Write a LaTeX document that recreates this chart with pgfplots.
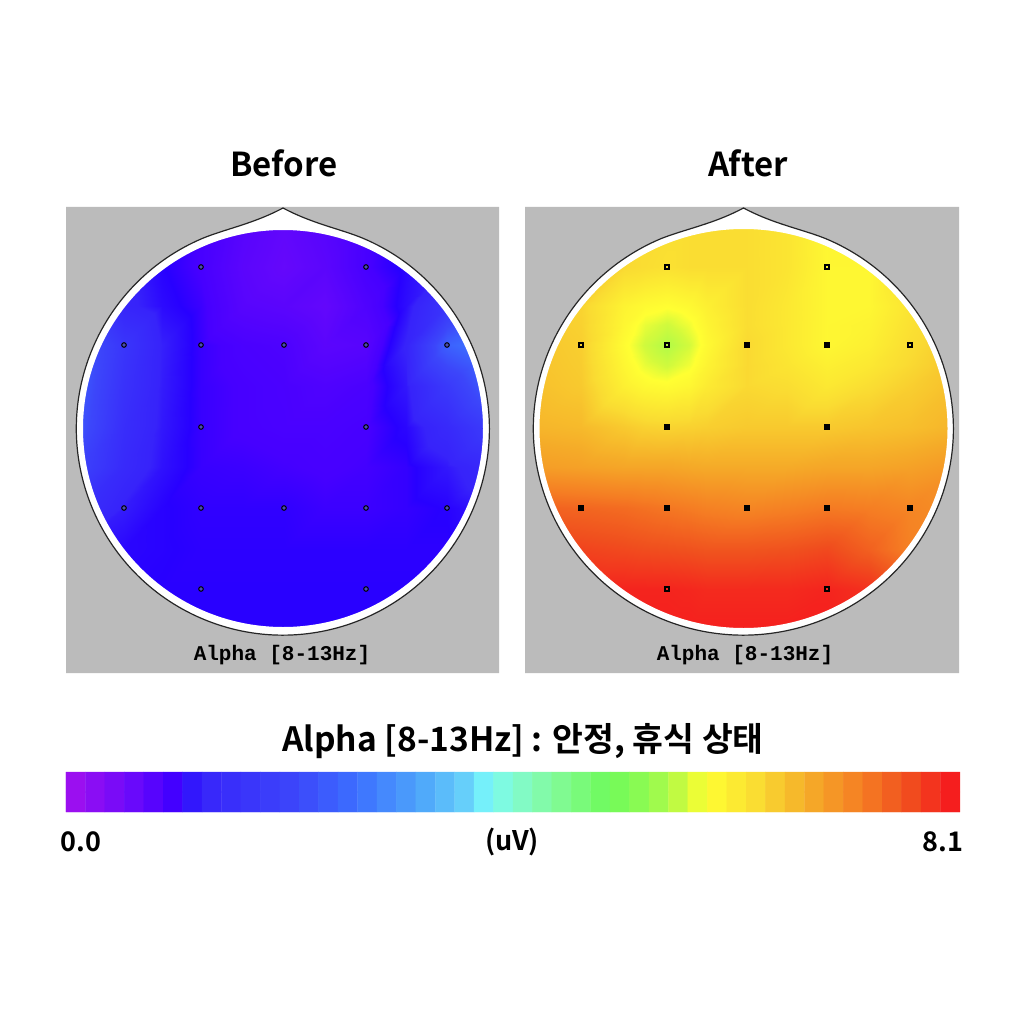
\documentclass[border=0pt]{standalone}
\usepackage{pgfplots}
\pgfplotsset{compat=1.18}
\usepackage{pgfplotstable}
\usepackage{fontspec}
\setmainfont{Noto Sans CJK KR}[BoldFont={* Bold}]
\newfontfamily\eegmono{Liberation Mono}
\definecolor{panel}{RGB}{187,187,187}
\pgfplotsset{colormap={eeg}{
rgb255(0pt)=(155,15,240) rgb255(6pt)=(110,10,250) rgb255(11pt)=(70,0,255) rgb255(12pt)=(40,0,255)
rgb255(14pt)=(55,35,250) rgb255(25pt)=(60,70,250) rgb255(32pt)=(60,110,255) rgb255(40pt)=(80,170,250)
rgb255(46pt)=(110,220,250) rgb255(47pt)=(120,250,250) rgb255(50pt)=(130,250,210) rgb255(55pt)=(130,250,150)
rgb255(61pt)=(110,250,90) rgb255(66pt)=(150,250,80) rgb255(70pt)=(210,250,60) rgb255(72pt)=(255,255,50)
rgb255(78pt)=(250,220,50) rgb255(84pt)=(245,170,40) rgb255(90pt)=(245,125,35) rgb255(95pt)=(240,80,30)
rgb255(100pt)=(245,30,30)}}
\pgfplotstableread[row sep=\\]{
x y v\\
75 225 1.05\\ 124 225 1.0\\ 162 225 .94\\ 201 225 .88\\ 243 225 .72\\ 284 225 .62\\ 325 225 .72\\ 366 225 .88\\ 406 225 1.0\\ 447 225 1.2\\ 492 225 1.4\\
75 267 1.2\\ 124 267 1.1\\ 162 267 .98\\ 201 267 .88\\ 243 267 .68\\ 284 267 .58\\ 325 267 .68\\ 366 267 .88\\ 406 267 1.0\\ 447 267 1.2\\ 492 267 1.6\\
75 306 1.5\\ 124 306 1.2\\ 162 306 1.02\\ 201 306 .92\\ 243 306 .72\\ 284 306 .68\\ 325 306 .6\\ 366 306 .8\\ 406 306 1.03\\ 447 306 1.6\\ 492 306 2.2\\
75 345 2.4\\ 124 345 1.6\\ 162 345 1.12\\ 201 345 .93\\ 243 345 .85\\ 284 345 .82\\ 325 345 .68\\ 366 345 .72\\ 406 345 1.15\\ 447 345 2.4\\ 492 345 2.8\\
75 386 2.4\\ 124 386 1.5\\ 162 386 1.1\\ 201 386 .93\\ 243 386 .88\\ 284 386 .85\\ 325 386 .8\\ 366 386 .85\\ 406 386 1.08\\ 447 386 1.7\\ 492 386 2.4\\
75 427 2.3\\ 124 427 1.4\\ 162 427 1.08\\ 201 427 .93\\ 243 427 .88\\ 284 427 .86\\ 325 427 .86\\ 366 427 .88\\ 406 427 1.0\\ 447 427 1.3\\ 492 427 1.8\\
75 467 2.0\\ 124 467 1.3\\ 162 467 1.05\\ 201 467 .93\\ 243 467 .92\\ 284 467 .9\\ 325 467 .88\\ 366 467 .9\\ 406 467 .94\\ 447 467 1.08\\ 492 467 1.3\\
75 508 1.5\\ 124 508 1.1\\ 162 508 .98\\ 201 508 .95\\ 243 508 .95\\ 284 508 .95\\ 325 508 .92\\ 366 508 .92\\ 406 508 .94\\ 447 508 .98\\ 492 508 1.1\\
75 549 1.1\\ 124 549 1.0\\ 162 549 .98\\ 201 549 .96\\ 243 549 .96\\ 284 549 .96\\ 325 549 .96\\ 366 549 .96\\ 406 549 .96\\ 447 549 .96\\ 492 549 1.0\\
75 589 1.0\\ 124 589 .98\\ 162 589 .97\\ 201 589 .97\\ 243 589 .97\\ 284 589 .97\\ 325 589 .97\\ 366 589 .97\\ 406 589 .97\\ 447 589 .97\\ 492 589 .97\\
75 635 .97\\ 124 635 .97\\ 162 635 .97\\ 201 635 .97\\ 243 635 .97\\ 284 635 .97\\ 325 635 .97\\ 366 635 .97\\ 406 635 .97\\ 447 635 .97\\ 492 635 .97\\
}\before
\pgfplotstableread[row sep=\\]{
x y v\\
530 225 6.35\\ 581 225 6.35\\ 624 225 6.3\\ 645 225 6.3\\ 667 225 6.3\\ 689 225 6.3\\ 707 225 6.3\\ 747 225 6.3\\ 787 225 6.2\\ 827 225 5.95\\ 869 225 6.0\\ 910 225 6.3\\ 955 225 6.3\\
530 267 6.4\\ 581 267 6.4\\ 624 267 6.35\\ 645 267 6.3\\ 667 267 6.25\\ 689 267 6.3\\ 707 267 6.3\\ 747 267 6.3\\ 787 267 6.2\\ 827 267 5.95\\ 869 267 5.95\\ 910 267 6.3\\ 955 267 6.4\\
530 306 6.45\\ 581 306 6.4\\ 624 306 6.0\\ 645 306 5.9\\ 667 306 5.85\\ 689 306 5.92\\ 707 306 6.05\\ 747 306 6.3\\ 787 306 6.15\\ 827 306 5.95\\ 869 306 5.95\\ 910 306 6.2\\ 955 306 6.4\\
530 325 6.5\\ 581 325 6.42\\ 624 325 5.95\\ 645 325 5.75\\ 667 325 5.65\\ 689 325 5.78\\ 707 325 5.98\\ 747 325 6.3\\ 787 325 6.15\\ 827 325 5.95\\ 869 325 6.0\\ 910 325 6.25\\ 955 325 6.45\\
530 345 6.55\\ 581 345 6.45\\ 624 345 5.88\\ 645 345 5.65\\ 667 345 5.5\\ 689 345 5.67\\ 707 345 5.92\\ 747 345 6.35\\ 787 345 6.15\\ 827 345 5.95\\ 869 345 6.05\\ 910 345 6.3\\ 955 345 6.5\\
530 365 6.57\\ 581 365 6.47\\ 624 365 5.95\\ 645 365 5.75\\ 667 365 5.65\\ 689 365 5.78\\ 707 365 6.0\\ 747 365 6.35\\ 787 365 6.2\\ 827 365 6.05\\ 869 365 6.15\\ 910 365 6.35\\ 955 365 6.55\\
530 386 6.6\\ 581 386 6.5\\ 624 386 6.05\\ 645 386 5.92\\ 667 386 5.88\\ 689 386 5.95\\ 707 386 6.12\\ 747 386 6.35\\ 787 386 6.3\\ 827 386 6.15\\ 869 386 6.3\\ 910 386 6.45\\ 955 386 6.6\\
530 427 6.7\\ 581 427 6.65\\ 624 427 6.5\\ 645 427 6.42\\ 667 427 6.4\\ 689 427 6.42\\ 707 427 6.45\\ 747 427 6.5\\ 787 427 6.5\\ 827 427 6.5\\ 869 427 6.55\\ 910 427 6.6\\ 955 427 6.7\\
530 467 6.95\\ 581 467 6.9\\ 624 467 6.85\\ 645 467 6.85\\ 667 467 6.85\\ 689 467 6.82\\ 707 467 6.8\\ 747 467 6.8\\ 787 467 6.8\\ 827 467 6.85\\ 869 467 6.85\\ 910 467 6.9\\ 955 467 7.0\\
530 508 7.55\\ 581 508 7.5\\ 624 508 7.45\\ 645 508 7.4\\ 667 508 7.35\\ 689 508 7.3\\ 707 508 7.25\\ 747 508 7.2\\ 787 508 7.25\\ 827 508 7.32\\ 869 508 7.28\\ 910 508 7.2\\ 955 508 7.1\\
530 549 7.85\\ 581 549 7.8\\ 624 549 7.75\\ 645 549 7.72\\ 667 549 7.7\\ 689 549 7.68\\ 707 549 7.65\\ 747 549 7.65\\ 787 549 7.68\\ 827 549 7.75\\ 869 549 7.55\\ 910 549 7.25\\ 955 549 7.05\\
530 589 8.05\\ 581 589 8.05\\ 624 589 8.05\\ 645 589 8.05\\ 667 589 8.05\\ 689 589 8.03\\ 707 589 8.0\\ 747 589 8.0\\ 787 589 8.0\\ 827 589 8.05\\ 869 589 7.95\\ 910 589 7.7\\ 955 589 7.5\\
530 635 8.1\\ 581 635 8.1\\ 624 635 8.1\\ 645 635 8.1\\ 667 635 8.1\\ 689 635 8.1\\ 707 635 8.1\\ 747 635 8.1\\ 787 635 8.1\\ 827 635 8.1\\ 869 635 8.1\\ 910 635 8.0\\ 955 635 8.0\\
}\after
\pgfplotstableread[row sep=\\]{
x y v\\
75.7 782 0\\ 95.2 782 .18\\ 114.6 782 .36\\ 134.0 782 .54\\ 153.5 782 .72\\ 172.9 782 .9\\ 192.3 782 1.08\\ 211.8 782 1.26\\ 231.2 782 1.44\\ 250.6 782 1.62\\ 270.1 782 1.8\\ 289.5 782 1.98\\ 308.9 782 2.16\\ 328.4 782 2.34\\ 347.8 782 2.52\\ 367.2 782 2.7\\ 386.7 782 2.88\\ 406.1 782 3.06\\ 425.5 782 3.24\\ 445.0 782 3.42\\ 464.4 782 3.6\\ 483.8 782 3.78\\ 503.3 782 3.96\\ 522.7 782 4.14\\ 542.1 782 4.32\\ 561.6 782 4.5\\ 581.0 782 4.68\\ 600.4 782 4.86\\ 619.9 782 5.04\\ 639.3 782 5.22\\ 658.7 782 5.4\\ 678.2 782 5.58\\ 697.6 782 5.76\\ 717.0 782 5.94\\ 736.5 782 6.12\\ 755.9 782 6.3\\ 775.3 782 6.48\\ 794.8 782 6.66\\ 814.2 782 6.84\\ 833.6 782 7.02\\ 853.1 782 7.2\\ 872.5 782 7.38\\ 891.9 782 7.56\\ 911.4 782 7.74\\ 930.8 782 7.92\\ 950.2 782 8.1\\
75.7 802 0\\ 95.2 802 .18\\ 114.6 802 .36\\ 134.0 802 .54\\ 153.5 802 .72\\ 172.9 802 .9\\ 192.3 802 1.08\\ 211.8 802 1.26\\ 231.2 802 1.44\\ 250.6 802 1.62\\ 270.1 802 1.8\\ 289.5 802 1.98\\ 308.9 802 2.16\\ 328.4 802 2.34\\ 347.8 802 2.52\\ 367.2 802 2.7\\ 386.7 802 2.88\\ 406.1 802 3.06\\ 425.5 802 3.24\\ 445.0 802 3.42\\ 464.4 802 3.6\\ 483.8 802 3.78\\ 503.3 802 3.96\\ 522.7 802 4.14\\ 542.1 802 4.32\\ 561.6 802 4.5\\ 581.0 802 4.68\\ 600.4 802 4.86\\ 619.9 802 5.04\\ 639.3 802 5.22\\ 658.7 802 5.4\\ 678.2 802 5.58\\ 697.6 802 5.76\\ 717.0 802 5.94\\ 736.5 802 6.12\\ 755.9 802 6.3\\ 775.3 802 6.48\\ 794.8 802 6.66\\ 814.2 802 6.84\\ 833.6 802 7.02\\ 853.1 802 7.2\\ 872.5 802 7.38\\ 891.9 802 7.56\\ 911.4 802 7.74\\ 930.8 802 7.92\\ 950.2 802 8.1\\
}\bar
\newcommand\headpath[3]{% cx rx ry
  (#1,208) .. controls ({#1+30},224) and ({#1+58},229) .. ({#1+0.39*#2},{428.5-0.92*#3})
  arc[start angle=67, end angle=-247, x radius=#2 pt, y radius=#3 pt]
  .. controls ({#1-58},229) and ({#1-30},224) .. (#1,208) -- cycle}
\newcommand\panel[7]{% x0 x1 cx rx ry irx iry
  \fill[panel,even odd rule] (#1,207) rectangle (#2,673) \headpath{#3}{#4}{#5};
  \fill[white,even odd rule] \headpath{#3}{#4}{#5} (#3,428.5) ellipse [x radius=#6 pt, y radius=#7 pt];
  \draw[black!85,line width=1.2pt] \headpath{#3}{#4}{#5};
}
\begin{document}
\begin{tikzpicture}
\begin{axis}[
  scale only axis, width=1024pt, height=1024pt,
  xmin=0, xmax=1024, ymin=0, ymax=1024, y dir=reverse,
  hide axis, clip=false, colormap name=eeg, point meta min=0, point meta max=8.1]
\path (0,0) rectangle (1024,1024);
\addplot[surf, shader=interp, mesh/rows=11, point meta=explicit] table[x=x,y=y,meta=v] {\before};
\addplot[surf, shader=interp, mesh/rows=13, point meta=explicit] table[x=x,y=y,meta=v] {\after};
\addplot[matrix plot*, mesh/rows=2, point meta=explicit, draw=none] table[x=x,y=y,meta=v] {\bar};
\panel{66}{499}{283}{206.5}{206.5}{200}{198.5}
\panel{525}{959}{743.5}{210}{206.5}{204}{199.5}
\addplot[only marks, mark=*, mark size=2.3pt, mark options={draw=black,line width=1pt,fill=gray!60!blue}] coordinates {
(201,267)(366,267)(124,345)(201,345)(284,345)(366,345)(447,345)(201,427)(366,427)(124,508)(201,508)(284,508)(366,508)(447,508)(201,589)(366,589)};
\addplot[only marks, mark=square*, mark size=2.4pt, mark options={draw=black,fill=black}] coordinates {
(747,345)(827,345)(667,427)(827,427)(581,508)(667,508)(747,508)(827,508)(910,508)};
\addplot[only marks, mark=square, mark size=2pt, mark options={draw=black,line width=1.3pt}] coordinates {
(667,267)(827,267)(581,345)(667,345)(910,345)(667,589)(827,589)};
\node[font=\fontsize{33}{33}\selectfont\bfseries] at (284,163) {Before};
\node[font=\fontsize{33}{33}\selectfont\bfseries] at (748,163) {After};
\node[font=\fontsize{21}{21}\eegmono\bfseries] at (282,655) {Alpha [8-13Hz]};
\node[font=\fontsize{21}{21}\eegmono\bfseries] at (745,655) {Alpha [8-13Hz]};
\node[font=\fontsize{33.5}{33.5}\selectfont\bfseries] at (523,741) {Alpha [8-13Hz] : 안정, 휴식 상태};
\node[font=\fontsize{27}{27}\selectfont\bfseries] at (81,842) {0.0};
\node[font=\fontsize{27}{27}\selectfont\bfseries] at (512,842) {(uV)};
\node[font=\fontsize{27}{27}\selectfont\bfseries] at (943,842) {8.1};
\end{axis}
\end{tikzpicture}
\end{document}
